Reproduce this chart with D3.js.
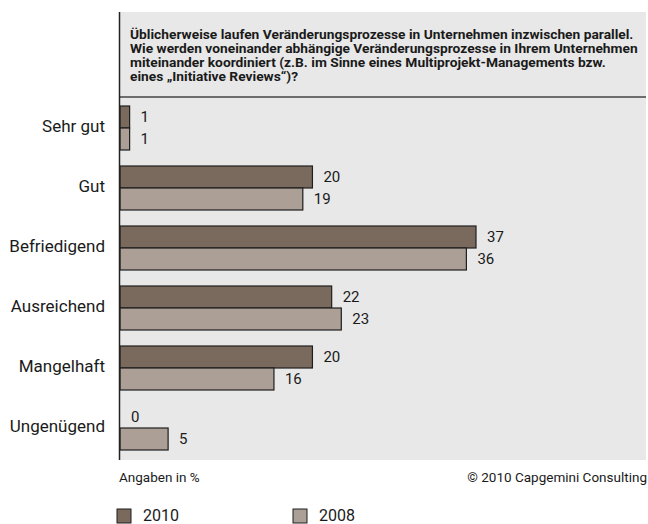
<!DOCTYPE html>
<html>
<head>
<meta charset="utf-8">
<script src="https://cdn.jsdelivr.net/npm/d3@7"></script>
<style>
  html, body { margin: 0; padding: 0; background: #fff; }
  svg { display: block; font-family: "Roboto", "Liberation Sans", sans-serif; }
</style>
</head>
<body>
<svg id="chart" width="648" height="524"></svg>
<script>
// Survey answers (percent)
const categories = ["Sehr gut", "Gut", "Befriedigend", "Ausreichend", "Mangelhaft", "Ungenügend"];
const values2010 = [1, 20, 37, 22, 20, 0];
const values2008 = [1, 19, 36, 23, 16, 5];
const seriesNames = ["2010", "2008"];
const seriesColors = ["#7a6a5d", "#ab9f96"];

const titleLines = [
  "Üblicherweise laufen Veränderungsprozesse in Unternehmen inzwischen parallel.",
  "Wie werden voneinander abhängige Veränderungsprozesse in Ihrem Unternehmen",
  "miteinander koordiniert (z.B. im Sinne eines Multiprojekt-Managements bzw.",
  "eines „Initiative Reviews“)?"
];
const noteLeft = "Angaben in %";
const noteRight = "© 2010 Capgemini Consulting";

const svg = d3.select("#chart");

const panel = { left: 120, right: 646, top: 12, bottom: 460 };

// background panel
svg.append("rect")
  .attr("x", panel.left).attr("y", panel.top)
  .attr("width", panel.right - panel.left).attr("height", panel.bottom - panel.top)
  .attr("fill", "#e8e8e8");

// question title, set in a slightly widened bold face
const title = svg.append("text")
  .attr("transform", "translate(130,38.5) scale(1.13,1)")
  .attr("font-size", 12.2).attr("font-weight", "bold").attr("fill", "#1a1a1a");
title.selectAll("tspan").data(titleLines).join("tspan")
  .attr("x", 0).attr("y", (d, i) => i * 14.3)
  .text(d => d);

svg.append("line")
  .attr("x1", panel.left).attr("x2", panel.right)
  .attr("y1", 97).attr("y2", 97)
  .attr("stroke", "#444").attr("stroke-width", 1.3);

// scales
const x = d3.scaleLinear().domain([0, 37]).range([panel.left, 476]);
const y = d3.scaleBand().domain(categories)
  .range([106, 450])
  .paddingInner(16 / 60).paddingOuter(0).align(0);
const sub = d3.scaleBand().domain(seriesNames).range([0, y.bandwidth()]);

const rows = categories.map((c, i) => ({ cat: c, vals: [values2010[i], values2008[i]] }));

const groups = svg.append("g").selectAll("g").data(rows).join("g")
  .attr("transform", d => `translate(0,${y(d.cat)})`);

groups.selectAll("rect").data(d => d.vals.map((v, j) => ({ v, s: seriesNames[j], j })))
  .join("rect")
  .filter(d => d.v > 0)
  .attr("x", x(0))
  .attr("y", d => sub(d.s))
  .attr("width", d => x(d.v) - x(0))
  .attr("height", sub.bandwidth())
  .attr("fill", d => seriesColors[d.j])
  .attr("stroke", "#1e1e1e").attr("stroke-width", 1.2);

groups.selectAll("text.val").data(d => d.vals.map((v, j) => ({ v, s: seriesNames[j], j })))
  .join("text").attr("class", "val")
  .attr("x", d => x(d.v) + 11)
  .attr("y", d => sub(d.s) + sub.bandwidth() / 2 + 1)
  .attr("dominant-baseline", "middle")
  .attr("font-size", 15).attr("fill", "#1a1a1a")
  .text(d => d.v);

// category axis labels
svg.append("g").selectAll("text").data(categories).join("text")
  .attr("x", 105)
  .attr("y", d => y(d) + y.bandwidth() / 2)
  .attr("text-anchor", "end").attr("dominant-baseline", "middle")
  .attr("font-size", 17).attr("fill", "#1a1a1a")
  .text(d => d);

// vertical axis line
svg.append("line")
  .attr("x1", panel.left - 0.5).attr("x2", panel.left - 0.5)
  .attr("y1", panel.top).attr("y2", panel.bottom)
  .attr("stroke", "#222").attr("stroke-width", 1.5);

// notes
svg.append("text").attr("x", 119).attr("y", 482)
  .attr("font-size", 13.5).attr("fill", "#1a1a1a").text(noteLeft);
svg.append("text").attr("x", 647).attr("y", 482).attr("text-anchor", "end")
  .attr("font-size", 13.5).attr("fill", "#1a1a1a").text(noteRight);

// legend
const legend = svg.append("g").selectAll("g").data(seriesNames).join("g")
  .attr("transform", (d, i) => `translate(${117 + i * 176},509)`);
legend.append("rect").attr("width", 14).attr("height", 14)
  .attr("fill", (d, i) => seriesColors[i]).attr("stroke", "#1e1e1e").attr("stroke-width", 1);
legend.append("text").attr("x", 26).attr("y", 8)
  .attr("dominant-baseline", "middle").attr("font-size", 16).attr("fill", "#1a1a1a")
  .text(d => d);
</script>
</body>
</html>
